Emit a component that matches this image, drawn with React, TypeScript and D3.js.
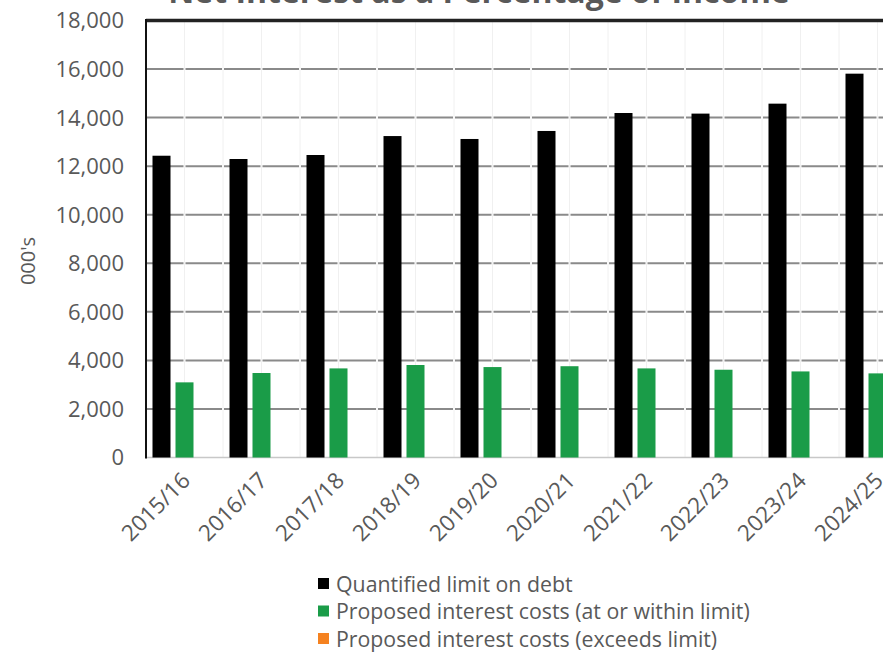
import React from "react";
import * as d3 from "d3";

const categories = ["2015/16","2016/17","2017/18","2018/19","2019/20","2020/21","2021/22","2022/23","2023/24","2024/25"];
const limitValues = [12430,12295,12460,13240,13120,13450,14190,14165,14575,15810];
const withinValues = [3095,3480,3670,3810,3725,3760,3670,3615,3545,3465];
const exceedsValues = [0,0,0,0,0,0,0,0,0,0];
const seriesNames = ["Quantified limit on debt","Proposed interest costs (at or within limit)","Proposed interest costs (exceeds limit)"];
const seriesColors = ["#000000","#1a9c48","#f58220"];
const yTicks = [0,2000,4000,6000,8000,10000,12000,14000,16000,18000];
const title = "Net Interest as a Percentage of Income";
const yLabel = "000's";

const W = 883, H = 654;
const FONT = "'Open Sans', sans-serif";
const TXT = "#595959";

export default function App() {
  const left = 146, top = 20.5, bottom = 457.5;
  const bandW = 77;
  const x0 = d3.scaleBand<string>().domain(categories).range([left, left + bandW * categories.length]).paddingInner(0).paddingOuter(0);
  const x1 = d3.scaleBand<string>().domain(["a","b","c"]).range([0, x0.bandwidth()]).paddingInner(5/23).paddingOuter(6.5/23);
  const y = d3.scaleLinear().domain([0, 18000]).range([bottom, top]);
  const series = [limitValues, withinValues, exceedsValues];
  const right = left + bandW * categories.length;
  const half = bandW / 2;
  const vlines = d3.range(0, categories.length * 2 + 1).map(k => left + half * k);
  const fmt = d3.format(",");

  return (
    <svg width={W} height={H} style={{position:"absolute", left:0, top:0, background:"#fff"}} fontFamily={FONT}>
      <text x={479} y={3} textAnchor="middle" fontSize={32} fontWeight="bold" fill={TXT}>{title}</text>
      {vlines.map((vx,i) => <line key={"v"+i} x1={vx} x2={vx} y1={top} y2={bottom} stroke="#f0f0f0" strokeWidth={1}/>)}
      {yTicks.slice(1, -1).map(t => (
        <line key={"g"+t} x1={left} x2={right} y1={y(t)} y2={y(t)} stroke="#8a8a8a" strokeWidth={2}
          strokeDasharray={`${half-2} 2`} strokeDashoffset={-1}/>
      ))}
      <line x1={left} x2={right} y1={bottom} y2={bottom} stroke="#c8c8c8" strokeWidth={1.5}/>
      <line x1={left} x2={right} y1={y(18000)} y2={y(18000)} stroke="#222" strokeWidth={3.5}/>
      {categories.map((c,i) => (
        <g key={c}>
          {series.map((s,j) => {
            const key = ["a","b","c"][j];
            const v = s[i];
            if (v <= 0) return null;
            return <rect key={j} x={(x0(c) as number) + (x1(key) as number)} width={x1.bandwidth()} y={y(v)} height={y(0)-y(v)} fill={seriesColors[j]}/>;
          })}
        </g>
      ))}
      <line x1={left} x2={left} y1={top-1.5} y2={bottom+1} stroke="#111" strokeWidth={2}/>
      {yTicks.map(t => (
        <text key={"t"+t} x={124} y={y(t)} dy="0.36em" textAnchor="end" fontSize={22} fill={TXT}>{fmt(t)}</text>
      ))}
      <text transform={`translate(35,${(top+bottom)/2 + 22}) rotate(-90)`} textAnchor="middle" fontSize={20} fill={TXT}>{yLabel}</text>
      {categories.map(c => {
        const cx = (x0(c) as number) + x0.bandwidth()/2;
        return <text key={"x"+c} transform={`translate(${cx+7},${482}) rotate(-45)`} textAnchor="end" fontSize={22.5} fill={TXT}>{c}</text>;
      })}
      {seriesNames.map((n,i) => (
        <g key={n} transform={`translate(318,${584 + i*27.5})`}>
          <rect x={0} y={-6} width={11} height={11} fill={seriesColors[i]}/>
          <text x={18} y={0} dy="0.36em" fontSize={21.3} fill={TXT}>{n}</text>
        </g>
      ))}
    </svg>
  );
}
